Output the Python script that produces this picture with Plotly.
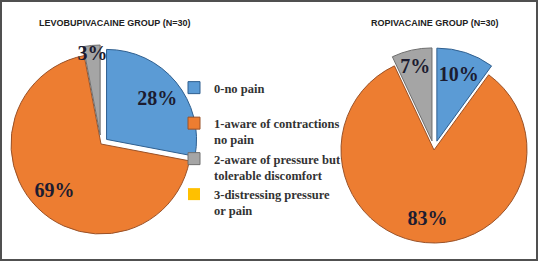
import plotly.graph_objects as go

categories = [
    "0-no pain<br> ",
    "1-aware of contractions<br>no pain",
    "2-aware of pressure but<br>tolerable discomfort",
    "3-distressing pressure<br>or pain",
]
levo_pct = [28, 69, 3, 0]
ropi_pct = [10, 83, 7, 0]
titles = ["LEVOBUPIVACAINE GROUP (N=30)", "ROPIVACAINE GROUP (N=30)"]

colors = ["#5B9BD5", "#ED7D31", "#A5A5A5", "#FFC000"]
edge = ["#2F5F8F", "#9A5228", "#6E6E6E", "#B08800"]
edge_w = [1, 1, 1, 0]

W, H = 538, 261

def px_dom(cx, cy, r, pull):
    half = r * (1 + pull)
    return dict(x=[(cx - half) / W, (cx + half) / W],
                y=[(H - cy - half) / H, (H - cy + half) / H])

dom_l = px_dom(101, 144, 90, 0.1)
dom_r = px_dom(434, 150, 93, 0.1)
pull_l = [0.08, 0, 0.1, 0]
pull_r = [0.1, 0, 0.1, 0]

fig = go.Figure()

def add_pie(vals, dom, pull, legend):
    fig.add_trace(go.Pie(
        labels=categories, values=vals, sort=False, direction="clockwise",
        rotation=0, pull=pull, domain=dom,
        marker=dict(colors=colors, line=dict(color=edge, width=edge_w)),
        textinfo="none", showlegend=legend, hoverinfo="percent",
    ))
    txt = [f"{v}%" if v > 0 else "" for v in vals]
    fig.add_trace(go.Pie(
        labels=categories, values=vals, sort=False, direction="clockwise",
        rotation=0, pull=pull, domain=dom, hole=0.46,
        marker=dict(colors=["rgba(0,0,0,0)"] * 4, line=dict(width=0)),
        text=txt, textinfo="text", textposition="inside",
        insidetextorientation="horizontal",
        textfont=dict(family="Liberation Serif", size=20, color="#1C1C30", weight="bold"),
        showlegend=False, hoverinfo="skip",
    ))

add_pie(levo_pct, dom_l, pull_l, True)
add_pie(ropi_pct, dom_r, pull_r, False)

title_font = dict(family="Liberation Sans", size=9, color="#222222", weight="bold")

fig.update_layout(
    width=W, height=H,
    margin=dict(l=0, r=0, t=0, b=0),
    paper_bgcolor="white", plot_bgcolor="white",
    uniformtext=dict(minsize=20, mode="show"),
    legend=dict(
        x=174 / W, y=1 - 73 / H, xanchor="left", yanchor="top",
        font=dict(family="Liberation Serif", size=12.5, color="#333333", weight="bold"),
        valign="top", bgcolor="rgba(0,0,0,0)",
    ),
    annotations=[
        dict(text=titles[0], x=114 / W, y=1 - 23 / H, xref="paper", yref="paper",
             xanchor="center", yanchor="middle", showarrow=False, font=title_font),
        dict(text=titles[1], x=434 / W, y=1 - 23 / H, xref="paper", yref="paper",
             xanchor="center", yanchor="middle", showarrow=False, font=title_font),
    ],
    shapes=[dict(type="rect", xref="paper", yref="paper",
                 x0=1 / W, x1=1 - 1 / W, y0=1 / H, y1=1 - 1 / H,
                 line=dict(color="#505050", width=2))],
)

fig.write_html("out.html", config={"displayModeBar": False},
               post_script="document.body.style.margin='0px';")
